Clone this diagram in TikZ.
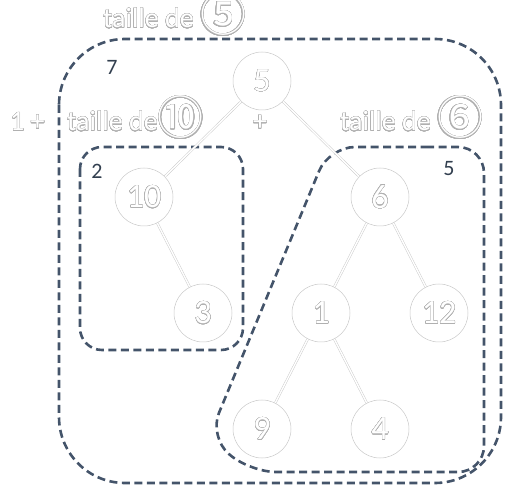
\documentclass[tikz,border=0pt]{standalone}
\usepackage{fontspec}
\setmainfont{Carlito}
\newfontfamily\symfont{Noto Sans CJK SC}
\usepackage{contour}
\contournumber{32}
\contourlength{0.3pt}
\definecolor{dashblue}{HTML}{44546A}
\definecolor{numdark}{HTML}{323F4F}
\definecolor{outl}{HTML}{B0B0B0}
\definecolor{circ}{HTML}{C8C8C8}
\newcommand{\outl}[1]{\contour{outl}{\textcolor{white}{#1}}}
\newcommand{\circd}[1]{\raisebox{-4pt}{\symfont\fontsize{46}{46}\selectfont #1}}
\tikzset{
  treenode/.style={circle, draw=circ, line width=0.5pt, minimum size=58pt, inner sep=0pt, font=\fontsize{34}{34}\selectfont},
  treeedge/.style={draw=circ, double=white, line width=0.45pt, double distance=1.4pt},
  hull/.style={draw=dashblue, line width=2.6pt, dash pattern=on 8pt off 4.5pt},
  lbl/.style={inner sep=0pt, anchor=base west, font=\fontsize{28}{28}\selectfont},
  cnt/.style={inner sep=0pt, text=numdark, font=\fontsize{22}{22}\selectfont},
}
\begin{document}
\begin{tikzpicture}[x=1pt,y=-1pt]
\useasboundingbox (0,0) rectangle (507,492);
% hulls
\draw[hull, rounded corners=66pt] (59,39) rectangle (501,483);
\draw[hull, rounded corners=22pt] (80,147) rectangle (243,350);
\draw[hull, rounded corners=26pt] (400,147) -- (484,147) -- (484,472) -- (250,472) -- (209,437) -- (329,147) -- cycle;
% nodes
\node[treenode] (n5)  at (262,81)  {\outl{5}};
\node[treenode] (n10) at (144,197) {\outl{10}};
\node[treenode] (n6)  at (380,197) {\outl{6}};
\node[treenode] (n3)  at (203,313) {\outl{3}};
\node[treenode] (n1)  at (321,313) {\outl{1}};
\node[treenode] (n12) at (439,313) {\outl{12}};
\node[treenode] (n9)  at (262,429) {\outl{9}};
\node[treenode] (n4)  at (380,429) {\outl{4}};
% edges
\draw[treeedge] (n5) -- (n10);
\draw[treeedge] (n5) -- (n6);
\draw[treeedge] (n10) -- (n3);
\draw[treeedge] (n6) -- (n1);
\draw[treeedge] (n6) -- (n12);
\draw[treeedge] (n1) -- (n9);
\draw[treeedge] (n1) -- (n4);
% labels
\node[lbl] (ltop) at (103,28) {\outl{taille de \circd{⑤}}};
\node[lbl] (lone) at (10,131) {\outl{1 +}};
\node[lbl] (lleft) at (67,131) {\outl{taille de\circd{⑩}}};
\node[lbl, anchor=base] (lplus) at (260,131) {\outl{+}};
\node[lbl] (lright) at (340,131) {\outl{taille de \circd{⑥}}};
% counts
\node[cnt] (c7) at (112,67) {7};
\node[cnt] (c2) at (97,171) {2};
\node[cnt] (c5) at (449,169) {5};
\end{tikzpicture}
\end{document}
